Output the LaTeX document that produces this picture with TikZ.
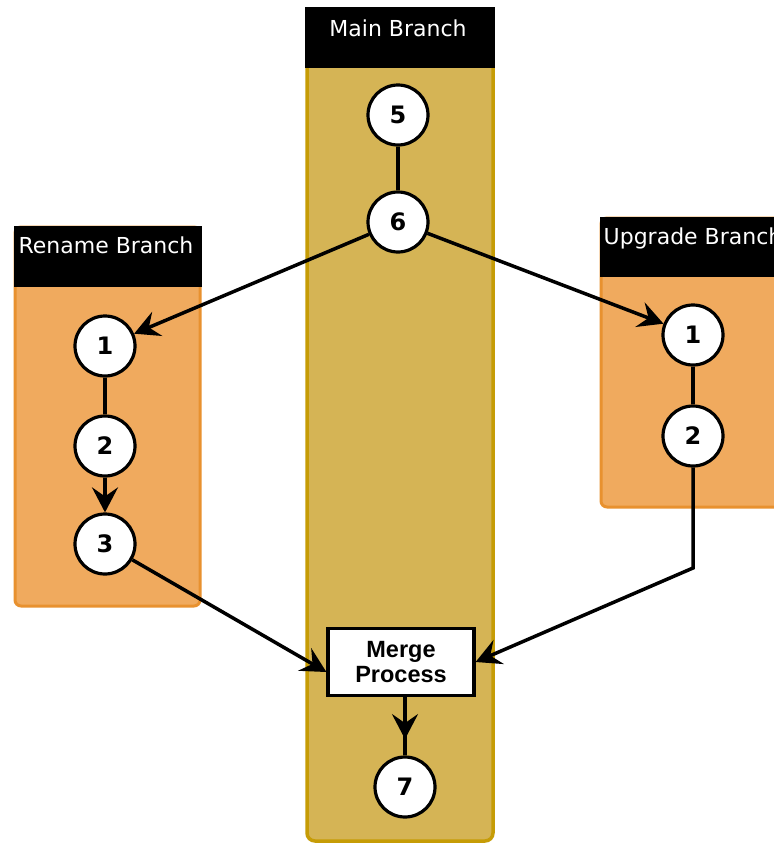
\documentclass[tikz,border=0pt]{standalone}
\usepackage{fontspec}
\setmainfont{DejaVu Sans}
\newfontfamily\arialfont{Liberation Sans}
\usetikzlibrary{arrows.meta,decorations.markings,calc}
\definecolor{mainfill}{HTML}{D5B455}
\definecolor{mainborder}{HTML}{C69C06}
\definecolor{orfill}{HTML}{F0AA5E}
\definecolor{orborder}{HTML}{E8912F}
\tikzset{
  lanemain/.style={fill=mainfill,draw=mainborder,line width=3.5pt,rounded corners=8pt},
  laneor/.style={fill=orfill,draw=orborder,line width=3pt,rounded corners=6pt},
  hdr/.style={fill=black},
  hdrtext/.style={text=white,anchor=base,inner sep=0pt,font=\fontsize{22}{24}\selectfont},
  circ/.style={circle,draw=black,line width=3.2pt,fill=white,minimum size=60pt,inner sep=0pt,font=\bfseries\fontsize{24}{24}\selectfont},
  mbox/.style={rectangle,draw=black,line width=3.2pt,fill=white,minimum width=146pt,minimum height=67pt,inner sep=0pt,align=center,font=\arialfont\bfseries\fontsize{23.5}{25}\selectfont},
  conn/.style={line width=3.5pt,draw=black},
  arr/.style={conn,-{Stealth[length=25pt,width=26pt,inset=9pt]}}
}
\begin{document}
\begin{tikzpicture}[x=1pt,y=-1pt]
\useasboundingbox (0,0) rectangle (774,844);
\fill[white] (0,0) rectangle (774,844);
\clip (0,0) rectangle (774,844);
% lanes
\draw[lanemain] (307,9) rectangle (493,841);
\fill[hdr] (305.25,7.25) rectangle (494.75,68);
\node[hdrtext] (mainhdr) at (398,36) {Main Branch};
\draw[laneor] (15,227) rectangle (200,606);
\fill[hdr] (13.5,225.5) rectangle (201.5,287);
\node[hdrtext] (renhdr) at (106,253) {Rename Branch};
\draw[laneor] (601,218) rectangle (790,507);
\fill[hdr] (599.5,216.5) rectangle (792,277);
\node[hdrtext] (uphdr) at (693,244) {Upgrade Branch};
% nodes
\node[circ] (m5) at (398,115) {5};
\node[circ] (m6) at (398,222) {6};
\node[circ] (r1) at (105,346) {1};
\node[circ] (r2) at (105,446) {2};
\node[circ] (r3) at (105,544) {3};
\node[circ] (u1) at (693,335) {1};
\node[circ] (u2) at (693,436) {2};
\node[mbox] (merge) at (401,662) {Merge\\Process};
\node[circ] (m7) at (405,787) {7};
\coordinate (ubend) at (693,568);
% connectors
\draw[conn] (m5) -- (m6);
\draw[arr] (m6) -- (r1);
\draw[arr] (m6) -- (u1);
\draw[conn] (r1) -- (r2);
\draw[arr] (r2) -- (r3);
\draw[conn] (u1) -- (u2);
\draw[arr] (r3) -- ([yshift=-10pt]merge.west);
\draw[arr] (u2) -- (ubend) -- (merge.east);
\draw[conn,postaction={decorate},decoration={markings,mark=at position 0.72 with {\arrow{Stealth[length=25pt,width=26pt,inset=9pt]}}}] (merge.south -| m7) -- (m7);
\end{tikzpicture}
\end{document}
